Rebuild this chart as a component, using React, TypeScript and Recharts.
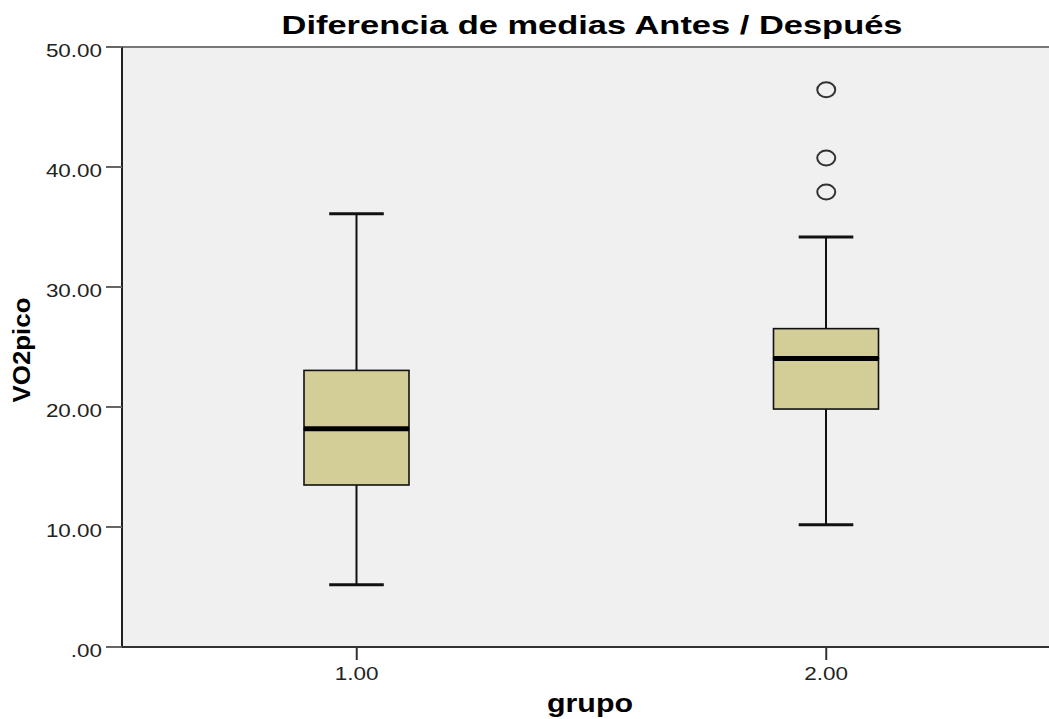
import React from 'react';
import { ComposedChart, Bar, Line, XAxis, YAxis, CartesianGrid, ReferenceLine } from 'recharts';

const groups = ['1.00', '2.00'];
const whiskerLow = [5.19, 10.19];
const q1 = [13.5, 19.83];
const median = [18.19, 24.05];
const q3 = [23.05, 26.53];
const whiskerHigh = [36.1, 34.17];
const outliers: number[][] = [[], [46.44, 40.75, 37.92]];
const yTicks = [0, 10, 20, 30, 40, 50];

const rows = groups.map((g, i) => ({
  g,
  base: whiskerLow[i],
  lw: q1[i] - whiskerLow[i],
  lb: median[i] - q1[i],
  hb: q3[i] - median[i],
  hw: whiskerHigh[i] - q3[i],
  o1: outliers[i][0],
  o2: outliers[i][1],
  o3: outliers[i][2],
}));

const FONT = '"Liberation Sans", Arial, sans-serif';

const emWidth = (s: string) =>
  s.split('').reduce((acc, c) => acc + (c === '.' ? 0.278 : 0.556), 0);

const fmtY = (v: number) => (v === 0 ? '.00' : v.toFixed(2));

const YTick = (props: any) => {
  const { x, y, payload } = props;
  const s = fmtY(payload.value);
  return (
    <text x={x} y={y + 10} textAnchor="end" fontFamily={FONT} fontSize={19} fill="#222"
      textLength={emWidth(s) * 19 * 1.18} lengthAdjust="spacingAndGlyphs">
      {s}
    </text>
  );
};

const XTick = (props: any) => {
  const { x, y, payload } = props;
  const s = String(payload.value);
  return (
    <text x={x} y={y + 13} textAnchor="middle" fontFamily={FONT} fontSize={18} fill="#222"
      textLength={emWidth(s) * 18 * 1.25} lengthAdjust="spacingAndGlyphs">
      {s}
    </text>
  );
};

const LowWhisker = (props: any) => {
  const { x, y, width, height } = props;
  const cx = x + width / 2;
  const cap = width * 0.26;
  return (
    <g>
      <line x1={cx} x2={cx} y1={y} y2={y + height} stroke="#111" strokeWidth={2} />
      <line x1={cx - cap} x2={cx + cap} y1={y + height} y2={y + height} stroke="#111" strokeWidth={3} />
    </g>
  );
};

const HighWhisker = (props: any) => {
  const { x, y, width, height } = props;
  const cx = x + width / 2;
  const cap = width * 0.26;
  return (
    <g>
      <line x1={cx} x2={cx} y1={y} y2={y + height} stroke="#111" strokeWidth={2} />
      <line x1={cx - cap} x2={cx + cap} y1={y} y2={y} stroke="#111" strokeWidth={3} />
    </g>
  );
};

const LowBox = (props: any) => {
  const { x, y, width, height } = props;
  return <rect x={x} y={y} width={width} height={height} fill="#D3CE97" stroke="#111" strokeWidth={1.6} />;
};

const HighBox = (props: any) => {
  const { x, y, width, height } = props;
  return (
    <g>
      <rect x={x} y={y} width={width} height={height} fill="#D3CE97" stroke="#111" strokeWidth={1.6} />
      <line x1={x} x2={x + width} y1={y + height} y2={y + height} stroke="#000" strokeWidth={5} />
    </g>
  );
};

const Outlier = (props: any) => {
  const { cx, cy, value } = props;
  if (value === undefined || value === null || cx == null || cy == null) return <g key={props.key} />;
  return <ellipse key={props.key} cx={cx} cy={cy} rx={9} ry={7.5} fill="none" stroke="#333" strokeWidth={2} />;
};

export default function App() {
  return (
    <div style={{ position: 'fixed', left: 0, top: 0, width: 1049, height: 719, overflow: 'hidden', background: '#fff' }}>
      <ComposedChart width={1061} height={719} data={rows} margin={{ top: 47, right: 0, left: 0, bottom: 0 }}>
        <CartesianGrid horizontal={false} vertical={false} fill="#F0F0F0" />
        <ReferenceLine y={50} stroke="#777" strokeWidth={2} />
        <XAxis dataKey="g" height={72} tickSize={13} tickMargin={7} tick={<XTick />}
          axisLine={{ stroke: '#333', strokeWidth: 2 }} tickLine={{ stroke: '#333', strokeWidth: 2 }} />
        <YAxis type="number" domain={[0, 50]} ticks={yTicks} width={122} tickSize={16} tickMargin={4}
          tick={<YTick />} axisLine={{ stroke: '#222', strokeWidth: 2 }} tickLine={{ stroke: '#666', strokeWidth: 2 }} />
        <Bar dataKey="base" stackId="a" barSize={105} fill="transparent" isAnimationActive={false} shape={() => <g />} />
        <Bar dataKey="lw" stackId="a" barSize={105} isAnimationActive={false} shape={<LowWhisker />} />
        <Bar dataKey="lb" stackId="a" barSize={105} isAnimationActive={false} shape={<LowBox />} />
        <Bar dataKey="hb" stackId="a" barSize={105} isAnimationActive={false} shape={<HighBox />} />
        <Bar dataKey="hw" stackId="a" barSize={105} isAnimationActive={false} shape={<HighWhisker />} />
        <Line dataKey="o1" stroke="none" dot={Outlier} activeDot={false} isAnimationActive={false} legendType="none" />
        <Line dataKey="o2" stroke="none" dot={Outlier} activeDot={false} isAnimationActive={false} legendType="none" />
        <Line dataKey="o3" stroke="none" dot={Outlier} activeDot={false} isAnimationActive={false} legendType="none" />
      </ComposedChart>
      <svg width={1049} height={719} style={{ position: 'absolute', left: 0, top: 0, pointerEvents: 'none' }}>
        <text x={592} y={34} textAnchor="middle" fontFamily={FONT} fontWeight="bold" fontSize={25} fill="#000"
          textLength={621} lengthAdjust="spacingAndGlyphs">
          Diferencia de medias Antes / Después
        </text>
        <text x={590} y={712} textAnchor="middle" fontFamily={FONT} fontWeight="bold" fontSize={25} fill="#000"
          textLength={86} lengthAdjust="spacingAndGlyphs">
          grupo
        </text>
        <text transform="translate(30, 350) rotate(-90)" textAnchor="middle" fontFamily={FONT} fontWeight="bold"
          fontSize={24} fill="#000" textLength={105} lengthAdjust="spacingAndGlyphs">
          VO2pico
        </text>
      </svg>
    </div>
  );
}
